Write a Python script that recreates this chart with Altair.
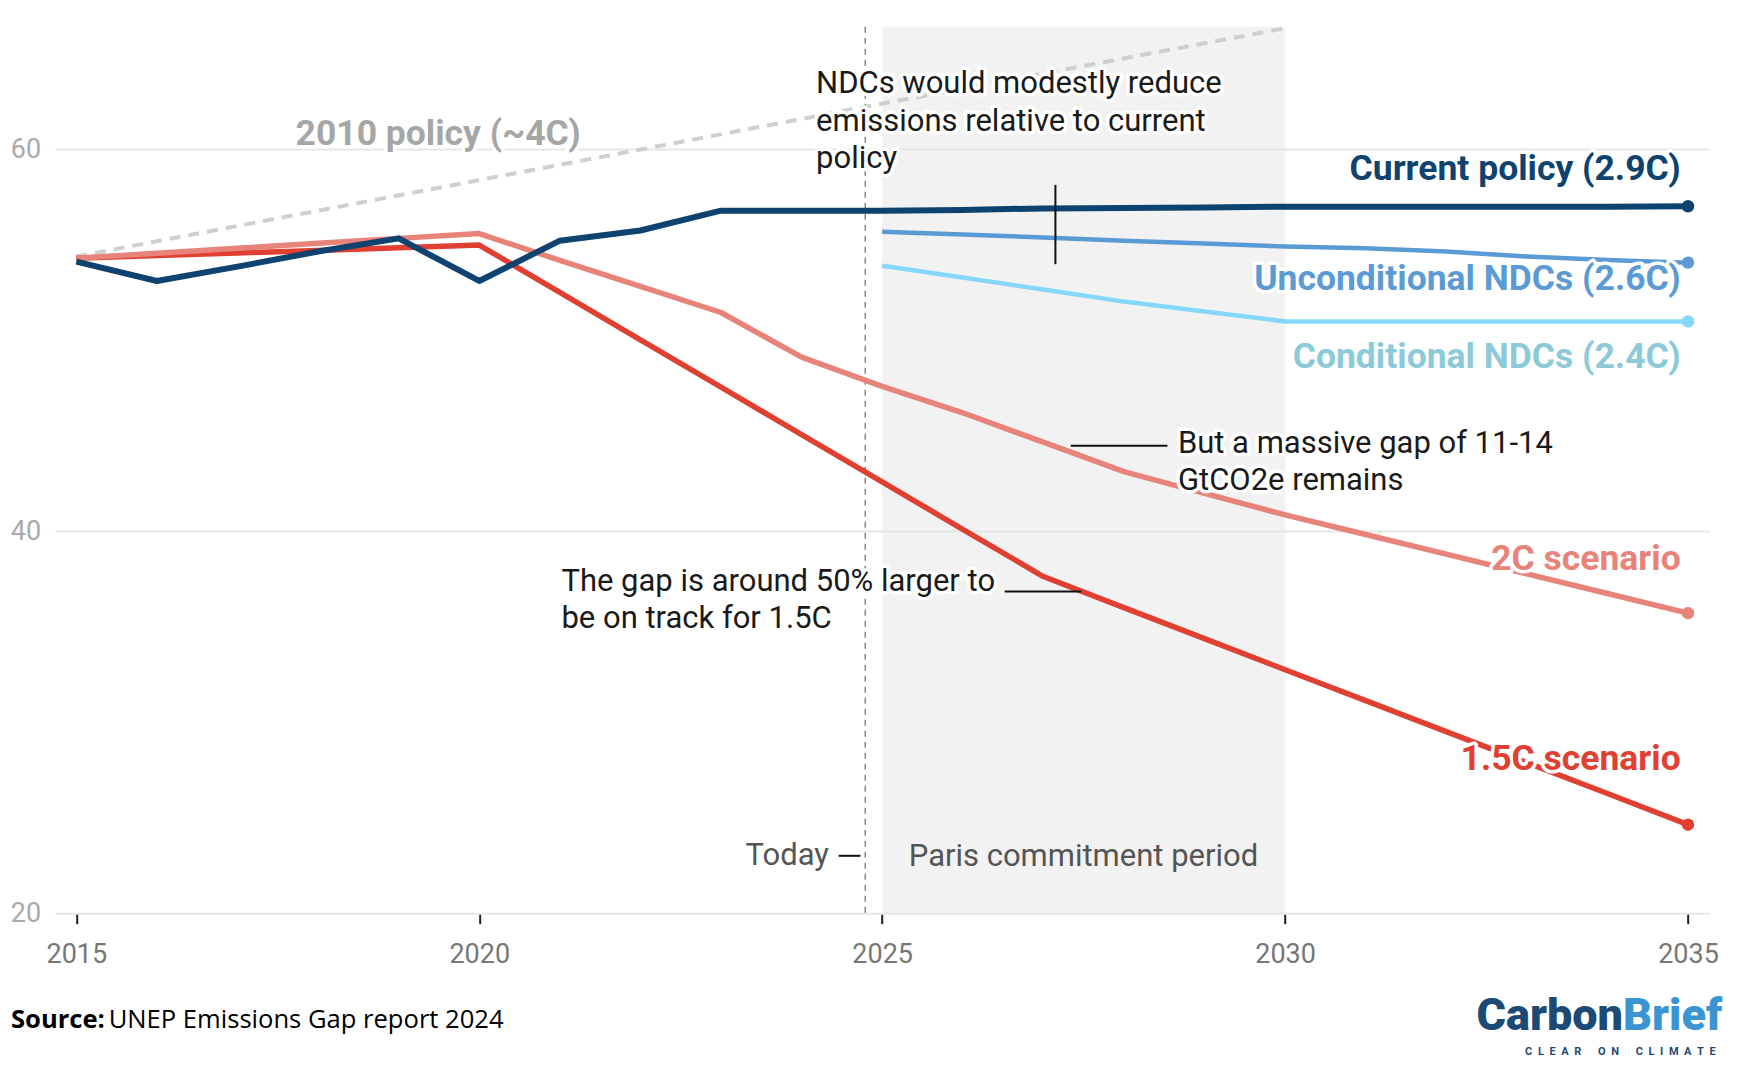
import altair as alt
import pandas as pd

# ---------------- data ----------------
years = list(range(2015, 2036))
ndc_years = list(range(2025, 2036))

current_policy = [54.13, 53.12, 53.87, 54.66, 55.35, 53.12, 55.23, 55.76, 56.80, 56.80,
                  56.80, 56.84, 56.92, 56.94, 56.96, 57.01, 57.01, 57.01, 57.01, 57.01, 57.03]
unconditional_ndcs = [55.70, 55.55, 55.40, 55.23, 55.08, 54.92, 54.83, 54.66, 54.40, 54.22, 54.08]
conditional_ndcs = [53.92, 53.30, 52.67, 52.04, 51.52, 51.00, 51.00, 51.00, 51.00, 51.00, 51.00]
scenario_2c = [54.31, 54.57, 54.83, 55.09, 55.35, 55.60, 54.20, 52.84, 51.47, 49.13,
               47.60, 46.22, 44.68, 43.14, 42.00, 40.88, 39.85, 38.82, 37.79, 36.76, 35.73]
scenario_15c = [54.31, 54.45, 54.59, 54.72, 54.86, 55.00, 52.52, 50.04, 47.56, 45.08,
                42.60, 40.12, 37.65, 36.02, 34.40, 32.77, 31.15, 29.53, 27.91, 26.29, 24.66]
policy2010_years = [2015, 2020, 2025, 2030]
policy2010 = [54.40, 58.40, 62.40, 66.35]

x_ticks = [2015, 2020, 2025, 2030, 2035]
y_ticks = [20, 40, 60]
paris_period = [2025, 2030]
today = 2024.79

# ---------------- scales ----------------
W, H = 1654, 887
xs = alt.Scale(domain=[2014.744, 2035.269], nice=False, zero=False)
ys = alt.Scale(domain=[20, 66.43], nice=False, zero=False)

NAVY = "#0d436e"
UNC = "#5b9bd5"
COND_LINE = "#86d8fa"
COND_TXT = "#8cc9d9"
C2 = "#e8837a"
C15 = "#e04032"
GREY = "#a6a6a6"
TXT = "#1a1a1a"

LABEL_SIZE = 35.5
ANN_SIZE = 31

layers = []

# Paris commitment period box
paris_df = pd.DataFrame({"x": [paris_period[0]], "x2": [paris_period[1]]})
layers.append(alt.Chart(paris_df).mark_rect(color="#f2f2f2").encode(
    x=alt.X("x:Q", scale=xs, title=None,
            axis=alt.Axis(values=x_ticks, format="d", grid=False, domain=False,
                          ticks=True, tickSize=10, tickColor="#222", tickWidth=2,
                          labelFontSize=27, labelColor="#777", labelFont="Roboto",
                          labelPadding=18)),
    x2="x2:Q"))

# gridlines
grid_df = pd.DataFrame({"y": y_ticks})
layers.append(alt.Chart(grid_df).mark_rule(color="#e6e6e6", strokeWidth=2).encode(
    y=alt.Y("y:Q", scale=ys, title=None,
            axis=alt.Axis(values=y_ticks, grid=False, domain=False, ticks=False,
                          labelFontSize=27, labelColor="#aaaaaa", labelFont="Roboto",
                          labelPadding=15))))

# today dashed line
layers.append(alt.Chart(pd.DataFrame({"x": [today]})).mark_rule(
    color="#888", strokeWidth=1.5, strokeDash=[6, 5]).encode(x=alt.X("x:Q", scale=xs, title=None)))

# 2010 policy dashed line
p10 = pd.DataFrame({"year": policy2010_years, "v": policy2010})
layers.append(alt.Chart(p10).mark_line(color="#cfcfcf", strokeWidth=4, strokeDash=[11, 8]).encode(
    x=alt.X("year:Q", scale=xs, title=None), y=alt.Y("v:Q", scale=ys, title=None)))


def series_line(yrs, vals, color, width):
    df = pd.DataFrame({"year": yrs, "v": vals})
    return alt.Chart(df).mark_line(color=color, strokeWidth=width, strokeJoin="round").encode(
        x=alt.X("year:Q", scale=xs, title=None), y=alt.Y("v:Q", scale=ys, title=None))


layers.append(series_line(years, scenario_15c, C15, 5.5))
layers.append(series_line(years, scenario_2c, C2, 5.5))
layers.append(series_line(ndc_years, conditional_ndcs, COND_LINE, 4.5))
layers.append(series_line(ndc_years, unconditional_ndcs, UNC, 4.5))
layers.append(series_line(years, current_policy, NAVY, 6))

# end points
end_df = pd.DataFrame({
    "year": [years[-1], ndc_years[-1], ndc_years[-1], years[-1], years[-1]],
    "v": [current_policy[-1], unconditional_ndcs[-1], conditional_ndcs[-1], scenario_2c[-1], scenario_15c[-1]],
    "s": ["cp", "unc", "cond", "c2", "c15"],
})
layers.append(alt.Chart(end_df).mark_circle(size=155, opacity=1).encode(
    x=alt.X("year:Q", scale=xs, title=None), y=alt.Y("v:Q", scale=ys, title=None),
    color=alt.Color("s:N", scale=alt.Scale(domain=["cp", "unc", "cond", "c2", "c15"],
                                           range=[NAVY, UNC, COND_LINE, C2, C15]), legend=None)))

# annotation pointer lines
ann_df = pd.DataFrame({
    "x": [2027.15, 2027.34, 2026.52, 2024.46],
    "x2": [2027.15, 2028.54, 2027.47, 2024.73],
    "y": [54.0, 44.5, 36.87, 23.03],
    "y2": [58.15, 44.5, 36.87, 23.03],
})
layers.append(alt.Chart(ann_df).mark_rule(color="#111", strokeWidth=2).encode(
    x=alt.X("x:Q", scale=xs, title=None), x2="x2:Q",
    y=alt.Y("y:Q", scale=ys, title=None), y2="y2:Q"))


def label(text, x, y, color, size, weight="normal", align="left", halo=True, lh=None):
    df = pd.DataFrame({"x": [x], "y": [y], "t": [text]})
    base = alt.Chart(df).encode(x=alt.X("x:Q", scale=xs, title=None),
                                y=alt.Y("y:Q", scale=ys, title=None), text="t:N")
    props = dict(align=align, baseline="alphabetic", fontSize=size, fontWeight=weight,
                 font="Roboto", lineBreak="\n")
    if lh:
        props["lineHeight"] = lh
    out = []
    if halo:
        out.append(base.mark_text(stroke="white", strokeWidth=7, strokeJoin="round",
                                  color="white", **props))
    out.append(base.mark_text(color=color, **props))
    return out


RX = 2034.91
layers += label("2010 policy (~4C)", 2019.49, 60.24, GREY, LABEL_SIZE, "bold", "center")
layers += label("Current policy (2.9C)", RX, 58.41, NAVY, LABEL_SIZE, "bold", "right")
layers += label("Unconditional NDCs (2.6C)", RX, 52.65, UNC, LABEL_SIZE, "bold", "right")
layers += label("Conditional NDCs (2.4C)", RX, 48.55, COND_TXT, LABEL_SIZE, "bold", "right")
layers += label("2C scenario", RX, 38.0, C2, LABEL_SIZE, "bold", "right")
layers += label("1.5C scenario", RX, 27.54, C15, LABEL_SIZE, "bold", "right")
layers += label("NDCs would modestly reduce\nemissions relative to current\npolicy",
                2024.18, 62.94, TXT, ANN_SIZE, lh=37.5)
layers += label("But a massive gap of 11-14\nGtCO2e remains", 2028.67, 44.14, TXT, ANN_SIZE, lh=37.5)
layers += label("The gap is around 50% larger to\nbe on track for 1.5C", 2021.02, 36.9, TXT, ANN_SIZE, lh=37.5)
layers += label("Today", 2024.34, 22.56, "#555", ANN_SIZE, align="right", halo=False)
layers += label("Paris commitment period", 2025.33, 22.48, "#555", ANN_SIZE, halo=False)


# footer: source and logo (placed in pixels relative to plot origin)
def px_text(text, px, py, color, size, weight="normal", align="left", font="Roboto"):
    df = pd.DataFrame({"t": [text]})
    return alt.Chart(df).mark_text(align=align, baseline="alphabetic", fontSize=size,
                                   fontWeight=weight, font=font, color=color).encode(
        x=alt.value(px), y=alt.value(py), text="t:N")


layers.append(px_text("Source:", -44.7, 1001, "#000", 25.6, "bold", font="Open Sans"))
layers.append(px_text("UNEP Emissions Gap report 2024", 53, 1001, "#000", 25.6, font="Open Sans"))
layers.append(px_text("Carbon", 1567.3, 1003.3, "#1b4b75", 45, 900, "right"))
layers.append(px_text("Brief", 1567.3, 1003.3, "#3b95d3", 45, 900, "left"))
sp = "\u2002"
tag = (sp.join("CLEAR") + sp * 3 + sp.join("ON") + sp * 3 + sp.join("CLIMATE"))
layers.append(px_text(tag, 1660, 1028.5, "#1b4b75", 11, "bold", "right"))

chart = alt.layer(*layers).properties(
    width=W, height=H,
    padding={"left": 47.7, "top": 18.7, "right": 20, "bottom": 150},
    autosize=alt.AutoSizeParams(type="none"),
    background="white",
).configure_view(strokeWidth=0, stroke=None)

chart.save("out.html", embed_options={"renderer": "svg", "actions": False})
